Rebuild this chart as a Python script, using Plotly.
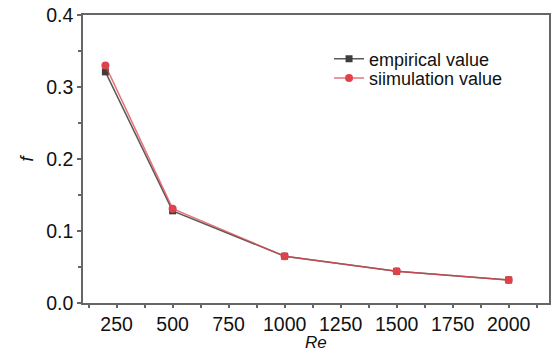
import plotly.graph_objects as go

re_vals = [200, 500, 1000, 1500, 2000]
empirical = [0.321, 0.128, 0.065, 0.044, 0.032]
simulation = [0.330, 0.131, 0.065, 0.044, 0.032]
x_ticks = [250, 500, 750, 1000, 1250, 1500, 1750, 2000]
y_ticks = [0.0, 0.1, 0.2, 0.3, 0.4]

TICK_FONT = dict(family="Liberation Sans Narrow, Arial Narrow, Liberation Sans", size=19.5, color="#111111")
LEG_FONT = dict(family="Liberation Sans, Arial", size=18, color="#111111")

fig = go.Figure()
fig.add_trace(go.Scatter(
    x=re_vals, y=empirical, name="empirical value", mode="lines+markers",
    line=dict(color="#5a5a5a", width=1.5),
    marker=dict(symbol="square", size=7, color="#3e3e3e"),
    legend="legend"))
fig.add_trace(go.Scatter(
    x=re_vals, y=simulation, name="siimulation value", mode="lines+markers",
    line=dict(color="rgba(222,70,78,0.75)", width=1.5),
    marker=dict(symbol="circle", size=8, color="#e0424a"),
    legend="legend2"))

axis_common = dict(showline=True, linecolor="#666666", linewidth=1.5, mirror=True,
                   showgrid=False, zeroline=False, ticks="outside", ticklen=4,
                   tickcolor="#666666", tickwidth=1.5, tickfont=TICK_FONT, automargin=False)
fig.update_xaxes(range=[100, 2180], tickvals=x_ticks, ticklen=3,
                 minor=dict(ticks="outside", ticklen=3, tickcolor="#666666", dtick=125, tick0=125),
                 **{k: v for k, v in axis_common.items() if k != "ticklen"})
fig.update_yaxes(range=[0, 0.4], tickvals=y_ticks, tickformat=".1f",
                 minor=dict(ticks="outside", ticklen=3, tickcolor="#666666", dtick=0.05, tick0=0),
                 title=dict(text="<i>f</i>", standoff=8,
                            font=dict(family="Liberation Sans, Arial", size=18, color="#111111")),
                 **axis_common)
fig.add_annotation(text="<i>Re</i>", xref="paper", yref="paper", x=0.5, y=-0.099,
                   xanchor="center", yanchor="top", showarrow=False, borderpad=0,
                   font=dict(family="Liberation Sans, Arial", size=17, color="#111111"))
leg_common = dict(xanchor="left", yanchor="middle", bgcolor="rgba(0,0,0,0)", font=LEG_FONT)
fig.update_layout(
    width=551, height=349, margin=dict(l=83, r=2, t=15, b=46),
    plot_bgcolor="white", paper_bgcolor="white",
    legend=dict(x=0.528, y=0.847, **leg_common),
    legend2=dict(x=0.528, y=0.780, **leg_common),
    showlegend=True)
fig.write_html("out.html")
